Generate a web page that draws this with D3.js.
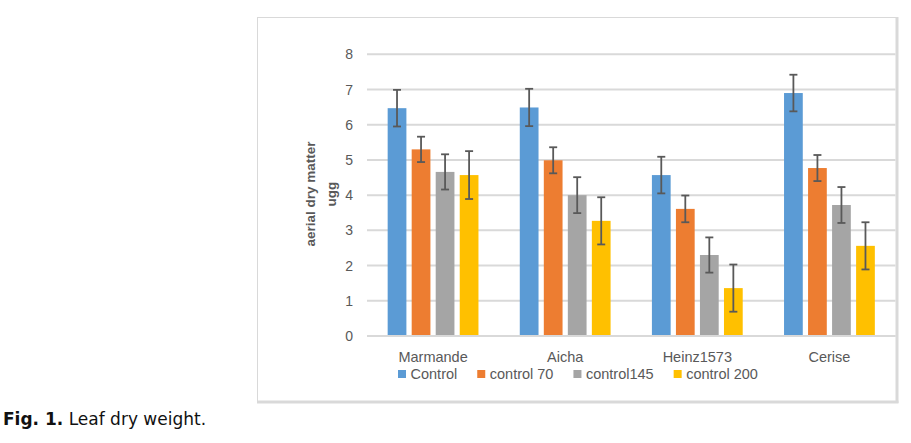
<!DOCTYPE html>
<html>
<head>
<meta charset="utf-8">
<script src="https://cdn.jsdelivr.net/npm/d3@7"></script>
<style>
  html, body { margin: 0; padding: 0; background: #fff; }
  svg { display: block; }
</style>
</head>
<body>
<svg id="chart" width="911" height="443"></svg>
<script>
// ---- data ----
const categories = ["Marmande", "Aicha", "Heinz1573", "Cerise"];
const seriesNames = ["Control", "control 70", "control145", "control 200"];
const controlValues   = [6.47, 6.49, 4.57, 6.90];
const control70Values = [5.30, 4.99, 3.61, 4.77];
const control145Values = [4.66, 4.00, 2.30, 3.72];
const control200Values = [4.57, 3.27, 1.36, 2.56];
const controlErr   = [0.52, 0.53, 0.52, 0.52];
const control70Err = [0.36, 0.37, 0.38, 0.37];
const control145Err = [0.50, 0.51, 0.50, 0.51];
const control200Err = [0.68, 0.67, 0.67, 0.67];
const yTicks = [0, 1, 2, 3, 4, 5, 6, 7, 8];
const colors = ["#5B9BD5", "#ED7D31", "#A5A5A5", "#FFC000"];
const yTitleLines = ["aerial dry matter", "ugg"];
const caption = { bold: "Fig. 1.", normal: " Leaf dry weight." };

const values = [controlValues, control70Values, control145Values, control200Values];
const errors = [controlErr, control70Err, control145Err, control200Err];

const svg = d3.select("#chart");
const font = "'Liberation Sans', Arial, sans-serif";

// chart frame
svg.append("rect").attr("x", 257.5).attr("y", 17.5).attr("width", 639).attr("height", 384)
  .attr("fill", "#fff").attr("stroke", "#D9D9D9").attr("stroke-width", 1);
svg.append("line").attr("x1", 897).attr("x2", 897).attr("y1", 17).attr("y2", 403)
  .attr("stroke", "#D9D9D9").attr("stroke-width", 3);
svg.append("line").attr("x1", 257).attr("x2", 898.5).attr("y1", 402).attr("y2", 402)
  .attr("stroke", "#D9D9D9").attr("stroke-width", 3);

const plot = { left: 367, right: 895.5, top: 54.3, bottom: 336 };

const x0 = d3.scaleBand().domain(categories).range([plot.left, plot.right]).paddingInner(0).paddingOuter(0);
const x1 = d3.scaleBand().domain(seriesNames).range([0, x0.bandwidth()]).paddingInner(0.22).paddingOuter(0.86);
const y = d3.scaleLinear().domain([0, 8]).range([plot.bottom, plot.top]);

// gridlines
svg.append("g").selectAll("line").data(yTicks).join("line")
  .attr("x1", plot.left).attr("x2", plot.right)
  .attr("y1", d => y(d)).attr("y2", d => y(d))
  .attr("stroke", "#D9D9D9").attr("stroke-width", 2);

// y tick labels
svg.append("g").selectAll("text").data(yTicks).join("text")
  .attr("x", 353).attr("y", d => y(d)).attr("dy", "0.36em")
  .attr("text-anchor", "end")
  .attr("font-family", font).attr("font-size", 14).attr("fill", "#595959")
  .text(d => d);

// y title
const yt = svg.append("text")
  .attr("transform", "translate(0,194) rotate(-90)")
  .attr("text-anchor", "middle")
  .attr("font-family", font).attr("font-size", 13.5).attr("font-weight", "bold").attr("fill", "#595959");
yt.append("tspan").attr("x", 0).attr("y", 315).text(yTitleLines[0]);
yt.append("tspan").attr("x", 0).attr("y", 336).text(yTitleLines[1]);

// bars
const flat = [];
categories.forEach((c, ci) => seriesNames.forEach((s, si) => {
  flat.push({ c, s, si, v: values[si][ci], e: errors[si][ci] });
}));

svg.append("g").selectAll("rect").data(flat).join("rect")
  .attr("x", d => x0(d.c) + x1(d.s))
  .attr("width", x1.bandwidth())
  .attr("y", d => y(d.v))
  .attr("height", d => y(0) - y(d.v))
  .attr("fill", d => colors[d.si]);

svg.append("line").attr("x1", plot.left).attr("x2", plot.right)
  .attr("y1", y(0)).attr("y2", y(0)).attr("stroke", "#D9D9D9").attr("stroke-width", 2);

// error bars
const eg = svg.append("g").attr("stroke", "#595959").attr("stroke-width", 1.8);
flat.forEach(d => {
  const cx = x0(d.c) + x1(d.s) + x1.bandwidth() / 2;
  const yt1 = y(d.v + d.e), yb1 = y(d.v - d.e);
  eg.append("line").attr("x1", cx).attr("x2", cx).attr("y1", yt1).attr("y2", yb1);
  eg.append("line").attr("x1", cx - 4).attr("x2", cx + 4).attr("y1", yt1).attr("y2", yt1);
  eg.append("line").attr("x1", cx - 4).attr("x2", cx + 4).attr("y1", yb1).attr("y2", yb1);
});

// category labels
svg.append("g").selectAll("text").data(categories).join("text")
  .attr("x", d => x0(d) + x0.bandwidth() / 2).attr("y", 362)
  .attr("text-anchor", "middle")
  .attr("font-family", font).attr("font-size", 14.5).attr("fill", "#595959")
  .text(d => d);

// legend
const lg = svg.append("g");
let lx = 398;
seriesNames.forEach((s, i) => {
  lg.append("rect").attr("x", lx).attr("y", 370).attr("width", 8).attr("height", 8).attr("fill", colors[i]);
  const t = lg.append("text").attr("x", lx + 12.5).attr("y", 378.5)
    .attr("font-family", font).attr("font-size", 14.5).attr("fill", "#595959").text(s);
  lx += 12.5 + t.node().getComputedTextLength() + 20;
});

// caption
const cap = svg.append("text").attr("x", 3).attr("y", 425)
  .attr("font-family", "'DejaVu Sans', Verdana, sans-serif").attr("font-size", 17).attr("fill", "#111");
cap.append("tspan").attr("font-weight", "bold").text(caption.bold);
cap.append("tspan").text(caption.normal);
</script>
</body>
</html>
